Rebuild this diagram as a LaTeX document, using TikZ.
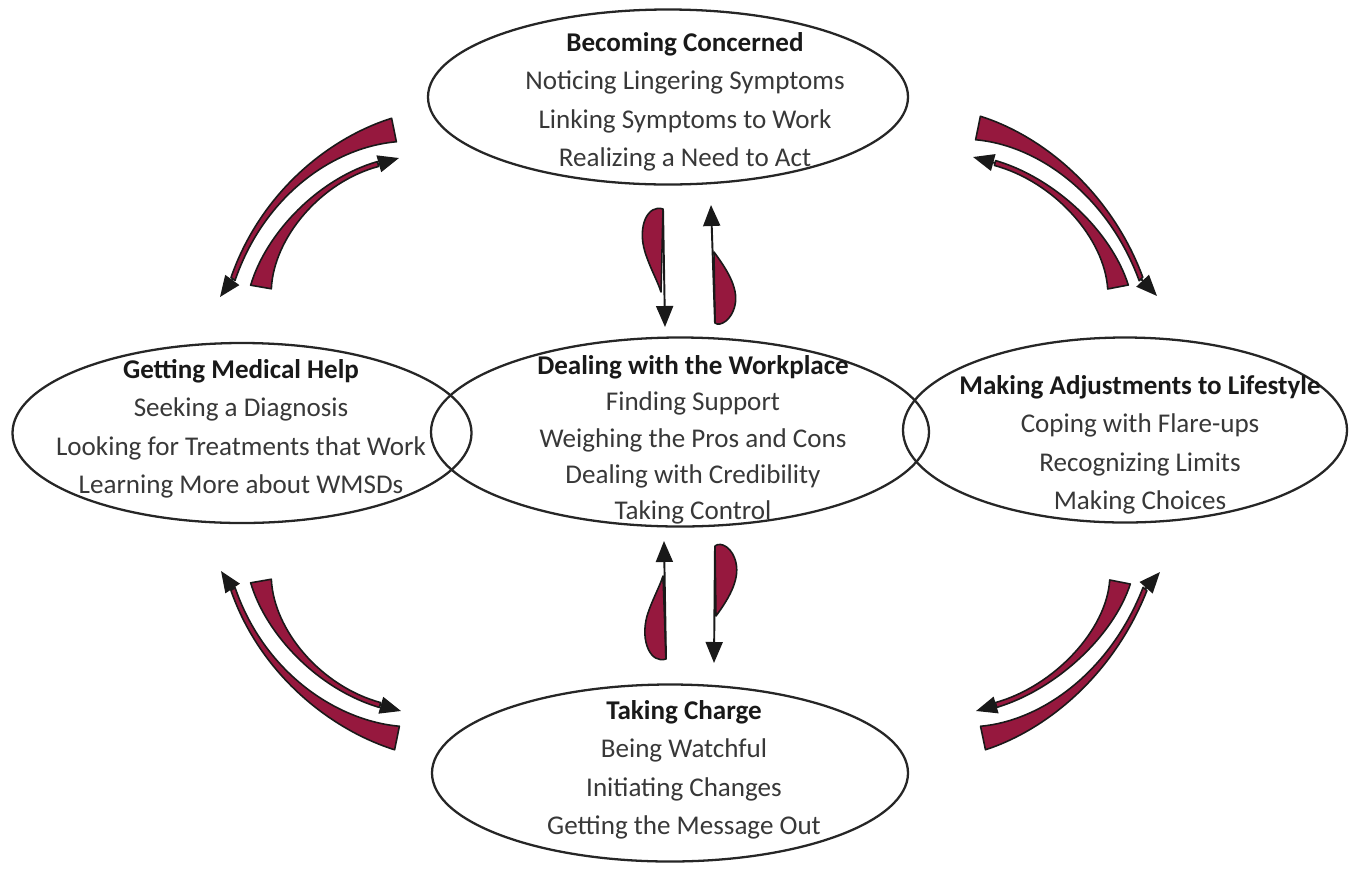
\documentclass[tikz,border=0pt]{standalone}
\usepackage{fontspec}
\setmainfont{Carlito}
\usetikzlibrary{arrows.meta, shapes.geometric, calc}

\definecolor{wine}{RGB}{150,24,62}

% tapered arrow: thick end, control 1, control 2, neck, tip, half width
\newcommand{\taperarrow}[6]{%
  \filldraw[tail] ($(#1)!#6!90:#2$) .. controls ($#2!0.45*#6!90:#3$) and ($#3!0.18*#6!90:#4$) .. ($#4!0.05cm!90:(#5)$)
    -- ($#4!0.05cm!-90:(#5)$) .. controls ($#3!0.18*#6!-90:#4$) and ($#2!0.45*#6!-90:#3$) .. ($(#1)!#6!-90:#2$) -- cycle;
  \draw[head] #4 -- (#5);
}

\begin{document}
\begin{tikzpicture}[x=0.2mm, y=-0.2mm,
    % Styles
    stage/.style={ellipse, draw=black!85, line width=1.3pt, inner sep=0pt},
    stagetext/.style={align=center, text=black!78, font=\fontsize{15.4}{21.9}\selectfont},
    tail/.style={fill=wine, draw=black!90, line width=0.9pt, line join=round},
    head/.style={draw=black!90, line width=1.1pt, -{Triangle[length=0.42cm, width=0.34cm]}},
]
\useasboundingbox (0,0) rectangle (1351,868);

% Stages
\node[stage, minimum width=9.6cm, minimum height=3.5cm] (concerned) at (668,97) {};
\node[stage, minimum width=9.18cm, minimum height=3.6cm] (medical) at (242,433) {};
\node[stage, minimum width=9.96cm, minimum height=3.78cm] (workplace) at (680,432) {};
\node[stage, minimum width=8.88cm, minimum height=3.7cm] (lifestyle) at (1125,430) {};
\node[stage, minimum width=9.52cm, minimum height=3.54cm] (charge) at (670,773) {};

% Stage texts
\node[stagetext] (concerned-txt) at (685,102) {\textbf{\color{black!90}Becoming Concerned}\\Noticing Lingering Symptoms\\Linking Symptoms to Work\\Realizing a Need to Act};
\node[stagetext] (medical-txt) at (241,429) {\textbf{\color{black!90}Getting Medical Help}\\Seeking a Diagnosis\\Looking for Treatments that Work\\Learning More about WMSDs};
\node[stagetext, font=\fontsize{15.4}{20.6}\selectfont] (workplace-txt) at (693,440) {\textbf{\color{black!90}Dealing with the Workplace}\\Finding Support\\Weighing the Pros and Cons\\Dealing with Credibility\\Taking Control};
\node[stagetext] (lifestyle-txt) at (1140,445) {\textbf{\color{black!90}Making Adjustments to Lifestyle}\\Coping with Flare-ups\\Recognizing Limits\\Making Choices};
\node[stagetext] (charge-txt) at (684,770) {\textbf{\color{black!90}Taking Charge}\\Being Watchful\\Initiating Changes\\Getting the Message Out};

% Becoming Concerned <-> Getting Medical Help
\coordinate (cm-s) at (394,130); \coordinate (cm-t) at (220,297);
\coordinate (mc-s) at (261,287); \coordinate (mc-t) at (399,158);
\taperarrow{cm-s}{(330,143)}{(262,195)}{(233,279)}{cm-t}{0.24cm}
\taperarrow{mc-s}{(270,235)}{(320,180)}{(378,164)}{mc-t}{0.21cm}

% Becoming Concerned <-> Making Adjustments
\coordinate (cl-s) at (978,128); \coordinate (cl-t) at (1157,296);
\coordinate (lc-s) at (1118,287); \coordinate (lc-t) at (973,157);
\taperarrow{cl-s}{(1042,141)}{(1110,195)}{(1141,279)}{cl-t}{0.24cm}
\taperarrow{lc-s}{(1108,235)}{(1055,180)}{(995,163)}{lc-t}{0.21cm}

% Getting Medical Help <-> Taking Charge
\coordinate (tm-s) at (397,738); \coordinate (tm-t) at (221,571);
\coordinate (mt-s) at (261,581); \coordinate (mt-t) at (401,711);
\taperarrow{tm-s}{(333,725)}{(262,673)}{(233,589)}{tm-t}{0.24cm}
\taperarrow{mt-s}{(270,633)}{(320,688)}{(380,705)}{mt-t}{0.21cm}

% Making Adjustments <-> Taking Charge
\coordinate (lt-s) at (1120,582); \coordinate (lt-t) at (976,711);
\coordinate (tl-s) at (983,738); \coordinate (tl-t) at (1160,572);
\taperarrow{lt-s}{(1110,633)}{(1055,688)}{(996,705)}{lt-t}{0.21cm}
\taperarrow{tl-s}{(1045,725)}{(1112,673)}{(1145,589)}{tl-t}{0.24cm}

% Becoming Concerned <-> Dealing with the Workplace
\coordinate (cw-s) at (663,209); \coordinate (cw-t) at (665,327);
\coordinate (wc-s) at (715,323); \coordinate (wc-t) at (711,205);
\filldraw[tail] (cw-s) .. controls (648,204) and (637,226) .. (645,252) .. controls (650,268) and (658,282) .. (661,292) -- cycle;
\draw[head] (cw-s) -- (cw-t);
\filldraw[tail] (714,252) .. controls (725,267) and (739,287) .. (735,305) .. controls (732,320) and (720,327) .. (wc-s) -- cycle;
\draw[head] (wc-s) -- (wc-t);

% Dealing with the Workplace <-> Taking Charge
\coordinate (tw-s) at (666,659); \coordinate (tw-t) at (664,541);
\coordinate (wt-s) at (715,546); \coordinate (wt-t) at (714,663);
\filldraw[tail] (tw-s) .. controls (651,664) and (640,642) .. (647,616) .. controls (652,600) and (660,586) .. (663,576) -- cycle;
\draw[head] (tw-s) -- (tw-t);
\filldraw[tail] (716,616) .. controls (727,601) and (740,581) .. (736,563) .. controls (733,548) and (721,541) .. (wt-s) -- cycle;
\draw[head] (wt-s) -- (wt-t);

\end{tikzpicture}
\end{document}
